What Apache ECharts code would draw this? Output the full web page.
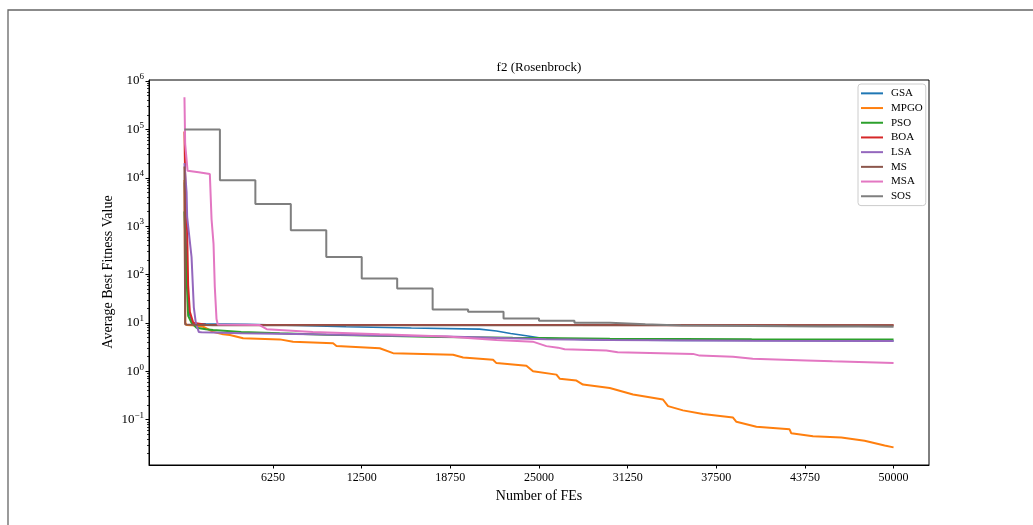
<!DOCTYPE html>
<html>
<head>
<meta charset="utf-8">
<script src="https://cdn.jsdelivr.net/npm/echarts@6/dist/echarts.min.js"></script>
<style>
  html, body { margin: 0; padding: 0; background: #fff; }
  #chart { width: 1033px; height: 525px; }
</style>
</head>
<body>
<div id="chart"></div>
<script>
// series names and colours (matplotlib tab10)
const names = ['GSA', 'MPGO', 'PSO', 'BOA', 'LSA', 'MS', 'MSA', 'SOS']
const colors = ['#1f77b4', '#ff7f0e', '#2ca02c', '#d62728', '#9467bd', '#8c564b', '#e377c2', '#7f7f7f']

// tick values
const xTicks = [6250, 12500, 18750, 25000, 31250, 37500, 43750, 50000]
const yTicks = [0.1, 1, 10, 100, 1000, 10000, 100000, 1000000]

// values (FEs, fitness)
const gsaX = [0, 100, 200, 350, 600, 1500, 4400, 8000, 11400, 16000, 20800, 22000, 23000, 24100, 25000, 26500, 28000, 30000, 35000, 40000, 45000, 50000]
const gsaY = [8000, 600, 60, 15, 9.7, 9.5, 9.3, 8.8, 8.3, 7.8, 7.4, 6.8, 6.0, 5.4, 4.9, 4.7, 4.55, 4.45, 4.35, 4.3, 4.25, 4.2]

const mpgoX = [0, 60, 150, 800, 1320, 2020, 2730, 3200, 4140, 6720, 7660, 10480, 10720, 13770, 14710, 18940, 19650, 21760, 22000, 24110, 24580, 26230, 26460, 27640, 28100, 29990, 31630, 33740, 34100, 35150, 36560, 38680, 38920, 40330, 42670, 42790, 44320, 46320, 47960, 49370, 50000]
const mpgoY = [9000, 10, 9.0, 8.8, 8.3, 6.5, 5.8, 5.6, 4.8, 4.55, 4.08, 3.78, 3.33, 2.99, 2.36, 2.18, 1.92, 1.72, 1.47, 1.3, 1.0, 0.85, 0.70, 0.64, 0.53, 0.45, 0.33, 0.26, 0.19, 0.155, 0.13, 0.11, 0.09, 0.071, 0.063, 0.052, 0.045, 0.0425, 0.0365, 0.029, 0.0266]

const psoX = [0, 100, 260, 500, 850, 1500, 2020, 4000, 6720, 10000, 13770, 18000, 23150, 30000, 40000, 50000]
const psoY = [2000, 200, 14, 10, 7.9, 7.4, 7.1, 6.5, 6.1, 5.7, 5.4, 5.1, 4.9, 4.7, 4.6, 4.55]

const boaX = [0, 40, 100, 190, 260, 380, 620, 1500, 50000]
const boaY = [90000, 15000, 2500, 800, 60, 17, 10, 9.1, 8.9]

const lsaX = [0, 150, 190, 500, 660, 800, 1010, 1200, 2020, 4000, 9070, 13770, 18470, 25520, 30000, 40000, 50000]
const lsaY = [20000, 5000, 1550, 230, 21, 10, 6.5, 6.4, 6.35, 6.1, 5.8, 5.5, 5.2, 4.6, 4.4, 4.25, 4.2]

const msX = [0, 50, 2000, 50000]
const msY = [17000, 9.2, 8.95, 8.9]

const msaX = [0, 50, 220, 1000, 1790, 1910, 2050, 2140, 2260, 2350, 5300, 5800, 9050, 13770, 18470, 22000, 24560, 25520, 26340, 26810, 29750, 30550, 35860, 36330, 38680, 40070, 43850, 45700, 50000]
const msaY = [460000, 50000, 14000, 13000, 12000, 1400, 430, 55, 12, 9.2, 9.0, 7.4, 6.5, 5.8, 5.2, 4.4, 4.08, 3.3, 3.07, 2.85, 2.67, 2.47, 2.28, 2.1, 2.0, 1.8, 1.67, 1.6, 1.47]

// SOS changes every 2500 FEs
const sosX = [0, 2500, 5000, 7500, 10000, 12500, 15000, 17500, 20000, 22500, 25000, 27500, 30000, 32500, 35000, 37500, 40000, 42500, 45000, 47500, 50000]
const sosY = [100000, 8870, 2880, 822, 231, 83, 51, 18.9, 16.9, 12.3, 11, 10, 9.3, 8.8, 8.7, 8.6, 8.5, 8.45, 8.4, 8.35, 8.3]

const xs = [gsaX, mpgoX, psoX, boaX, lsaX, msX, msaX, sosX]
const ys = [gsaY, mpgoY, psoY, boaY, lsaY, msY, msaY, sosY]

// minor log ticks 2..9 x 10^k
const minorTicks = []
for (let k = -2; k <= 5; k++) {
  for (let m = 2; m <= 9; m++) minorTicks.push(m * Math.pow(10, k))
}

const font = 'Liberation Serif'
const yMin = 0.0115
const yMax = 1050000

const chart = echarts.init(document.getElementById('chart'))

const series = names.map((name, i) => ({
  name,
  type: 'line',
  data: xs[i].map((x, j) => [x, ys[i][j]]),
  showSymbol: false,
  step: name === 'SOS' ? 'end' : false,
  lineStyle: { color: colors[i], width: name === 'GSA' ? 1.6 : 2 },
  itemStyle: { color: colors[i] },
  emphasis: { disabled: true },
  z: 2 + i
}))

chart.setOption({
  animation: false,
  textStyle: { fontFamily: font },
  graphic: [
    {
      type: 'rect',
      shape: { x: 8, y: 10, width: 1100, height: 600 },
      style: { fill: 'none', stroke: '#666', lineWidth: 1.3 },
      silent: true
    },
    {
      type: 'text',
      x: 539,
      y: 68,
      style: {
        text: 'f2 (Rosenbrock)',
        font: '13px "Liberation Serif"',
        fill: '#000',
        align: 'center',
        verticalAlign: 'middle'
      }
    },
    {
      // y axis title
      type: 'text',
      x: 108,
      y: 272,
      rotation: Math.PI / 2,
      style: {
        text: 'Average Best Fitness Value',
        font: '14px "Liberation Serif"',
        fill: '#000',
        align: 'center',
        verticalAlign: 'middle'
      }
    }
  ],
  grid: {
    left: 149,
    top: 80,
    right: 104,
    bottom: 60,
    show: true,
    borderColor: '#000',
    borderWidth: 1,
    outerBoundsMode: 'none'
  },
  legend: {
    orient: 'vertical',
    left: 858,
    top: 84,
    data: names,
    icon: 'rect',
    itemWidth: 22,
    itemHeight: 2,
    itemGap: 0,
    padding: [2, 3, 2, 3],
    borderColor: '#ccc',
    borderWidth: 1,
    borderRadius: 3,
    backgroundColor: 'rgba(255,255,255,0.85)',
    textStyle: { fontFamily: font, fontSize: 11, color: '#000', lineHeight: 14.7, padding: [0, 0, 0, 3] }
  },
  xAxis: {
    type: 'value',
    min: -2500,
    max: 52500,
    name: 'Number of FEs',
    nameLocation: 'middle',
    nameGap: 23,
    nameTextStyle: { fontFamily: font, fontSize: 14, color: '#000' },
    axisLine: { onZero: false, lineStyle: { color: '#000', width: 1 } },
    axisTick: { show: true, length: 3.5, customValues: xTicks, lineStyle: { color: '#000' } },
    axisLabel: {
      customValues: xTicks,
      formatter: (v) => String(v),
      fontFamily: font,
      fontSize: 12,
      color: '#000',
      margin: 7
    },
    splitLine: { show: false }
  },
  yAxis: [
    {
      type: 'log',
      min: yMin,
      max: yMax,
      position: 'left',
      axisLine: { onZero: false, lineStyle: { color: '#000', width: 1 } },
      axisTick: { show: true, length: 3.5, customValues: yTicks, lineStyle: { color: '#000' } },
      axisLabel: {
        customValues: yTicks,
        margin: 5,
        formatter: (v) => {
          const e = Math.round(Math.log10(v))
          return '{b|10}{s|' + (e < 0 ? '\u2212' + (-e) : e) + '}'
        },
        rich: {
          b: { fontFamily: font, fontSize: 13, color: '#000' },
          s: { fontFamily: font, fontSize: 9, color: '#000', padding: [0, 0, 8, 0] }
        }
      },
      splitLine: { show: false }
    },
    {
      type: 'log',
      min: yMin,
      max: yMax,
      position: 'left',
      axisLine: { show: false, onZero: false },
      axisTick: { show: true, length: 2, customValues: minorTicks, lineStyle: { color: '#000', width: 0.8 } },
      axisLabel: { show: false },
      splitLine: { show: false }
    }
  ],
  series
})
</script>
</body>
</html>
